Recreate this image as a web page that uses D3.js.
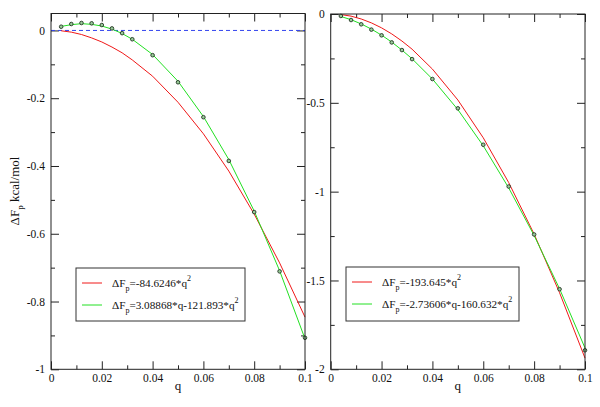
<!DOCTYPE html>
<html>
<head>
<meta charset="utf-8">
<script src="https://cdnjs.cloudflare.com/ajax/libs/d3/7.8.5/d3.min.js"></script>
<style>
  html, body { margin: 0; padding: 0; background: #fff; }
  svg text { font-family: "Liberation Serif", "Times New Roman", Tinos, "DejaVu Serif", "Noto Serif", serif; }
  .axis path { display: none; }
  .axis line { stroke: #222; }
  .axis text { fill: #111; font-size: 11.5px; }
</style>
</head>
<body>
<svg id="chart" width="600" height="407"></svg>
<script>
"use strict";

var SERIF = "'Liberation Serif', 'Times New Roman', Tinos, 'DejaVu Serif', 'Noto Serif', serif";

// q values shared by both panels
var qVals = [0.004, 0.008, 0.012, 0.016, 0.020, 0.024, 0.028, 0.032, 0.04, 0.05, 0.06, 0.07, 0.08, 0.09, 0.1];

// left panel
var leftPoints = [0.011, 0.019, 0.022, 0.021, 0.016, 0.006, -0.008, -0.026, -0.073, -0.153, -0.256, -0.385, -0.536, -0.711, -0.907];
var leftRed    = [-0.001, -0.005, -0.012, -0.022, -0.034, -0.049, -0.066, -0.087, -0.135, -0.212, -0.305, -0.415, -0.542, -0.686, -0.846];
var leftGreen  = [0.012, 0.017, 0.020, 0.018, 0.013, 0.004, -0.009, -0.026, -0.071, -0.150, -0.254, -0.381, -0.533, -0.709, -0.910];

// right panel
var rightPoints = [-0.011, -0.034, -0.058, -0.088, -0.120, -0.160, -0.203, -0.254, -0.366, -0.531, -0.736, -0.971, -1.241, -1.549, -1.893];
var rightRed    = [-0.003, -0.012, -0.028, -0.050, -0.078, -0.112, -0.152, -0.198, -0.310, -0.484, -0.697, -0.949, -1.239, -1.569, -1.937];
var rightGreen  = [-0.014, -0.032, -0.056, -0.085, -0.119, -0.158, -0.203, -0.252, -0.366, -0.538, -0.742, -0.979, -1.247, -1.547, -1.880];

// tick labels
var xMajor = [0, 0.02, 0.04, 0.06, 0.08, 0.1];
var xMinor = [0.01, 0.03, 0.05, 0.07, 0.09];
var leftYMajor = [-1, -0.8, -0.6, -0.4, -0.2, 0];
var leftYMinor = [-0.9, -0.7, -0.5, -0.3, -0.1];
var rightYMajor = [-2, -1.5, -1, -0.5, 0];
var rightYMinor = [-1.75, -1.25, -0.75, -0.25];

var leftLegend = [
  {color: "#f01818", pre: "=-84.6246*q", sup: "2"},
  {color: "#22e022", pre: "=3.08868*q-121.893*q", sup: "2"}
];
var rightLegend = [
  {color: "#f01818", pre: "=-193.645*q", sup: "2"},
  {color: "#22e022", pre: "=-2.73606*q-160.632*q", sup: "2"}
];

var svg = d3.select("#chart");
var fmt = function(d) { return String(+d.toFixed(3)); };

var panels = [
  {x0: 51, x1: 305, y0: 13.5, y1: 369.3, yDomain: [-1, 0.05], yMajor: leftYMajor, yMinor: leftYMinor,
   points: leftPoints, red: leftRed, green: leftGreen, legend: leftLegend, zeroLine: true,
   leg: {x: 76, y: 268, w: 169, h: 53}},
  {x0: 330.7, x1: 585, y0: 14, y1: 369.3, yDomain: [-2, 0], yMajor: rightYMajor, yMinor: rightYMinor,
   points: rightPoints, red: rightRed, green: rightGreen, legend: rightLegend, zeroLine: false,
   leg: {x: 346, y: 267, w: 173, h: 54}}
];

panels.forEach(function(p) {
  var w = p.x1 - p.x0, h = p.y1 - p.y0;
  var x = d3.scaleLinear().domain([0, 0.1]).range([0, w]);
  var y = d3.scaleLinear().domain(p.yDomain).range([h, 0]);
  var g = svg.append("g").attr("transform", "translate(" + p.x0 + "," + p.y0 + ")");

  // axes: major + minor ticks, all pointing inward, mirrored on every side
  g.append("g").attr("class", "axis").attr("transform", "translate(0," + h + ")")
    .call(d3.axisBottom(x).tickValues(xMajor).tickSize(-8).tickPadding(5).tickFormat(fmt));
  g.append("g").attr("class", "axis").attr("transform", "translate(0," + h + ")")
    .call(d3.axisBottom(x).tickValues(xMinor).tickSize(-4).tickFormat(""));
  g.append("g").attr("class", "axis")
    .call(d3.axisTop(x).tickValues(xMajor).tickSize(-8).tickFormat(""));
  g.append("g").attr("class", "axis")
    .call(d3.axisTop(x).tickValues(xMinor).tickSize(-4).tickFormat(""));
  g.append("g").attr("class", "axis")
    .call(d3.axisLeft(y).tickValues(p.yMajor).tickSize(-8).tickPadding(6).tickFormat(fmt));
  g.append("g").attr("class", "axis")
    .call(d3.axisLeft(y).tickValues(p.yMinor).tickSize(-4).tickFormat(""));
  g.append("g").attr("class", "axis").attr("transform", "translate(" + w + ",0)")
    .call(d3.axisRight(y).tickValues(p.yMajor).tickSize(-8).tickFormat(""));
  g.append("g").attr("class", "axis").attr("transform", "translate(" + w + ",0)")
    .call(d3.axisRight(y).tickValues(p.yMinor).tickSize(-4).tickFormat(""));
  g.selectAll(".axis").attr("font-family", SERIF);

  if (p.zeroLine) {
    g.append("line")
      .attr("x1", x(0)).attr("x2", x(0.1)).attr("y1", y(0)).attr("y2", y(0))
      .attr("stroke", "#3344ee").attr("stroke-width", 1).attr("stroke-dasharray", "4,3");
  }

  var line = d3.line().x(function(d, i) { return x(qVals[i]); }).y(function(d) { return y(d); });
  g.append("path").attr("d", line(p.red)).attr("fill", "none").attr("stroke", "#f01818").attr("stroke-width", 1);
  g.append("path").attr("d", line(p.green)).attr("fill", "none").attr("stroke", "#22e022").attr("stroke-width", 1);

  g.selectAll(".dot").data(p.points).enter().append("circle")
    .attr("class", "dot")
    .attr("cx", function(d, i) { return x(qVals[i]); })
    .attr("cy", function(d) { return y(d); })
    .attr("r", 1.8)
    .attr("fill", "#9c9")
    .attr("stroke", "#223322")
    .attr("stroke-width", 0.9);

  // frame
  g.append("rect").attr("width", w).attr("height", h)
    .attr("fill", "none").attr("stroke", "#222").attr("stroke-width", 1);

  // x label
  g.append("text").attr("x", w / 2).attr("y", h + 21)
    .attr("text-anchor", "middle").attr("font-size", 13).attr("fill", "#111").text("q");

  // legend
  var lg = svg.append("g").attr("transform", "translate(" + p.leg.x + "," + p.leg.y + ")");
  lg.append("rect").attr("width", p.leg.w).attr("height", p.leg.h)
    .attr("fill", "#fff").attr("stroke", "#333").attr("stroke-width", 1);
  p.legend.forEach(function(item, i) {
    var ry = 15 + i * 22;
    lg.append("line").attr("x1", 6).attr("x2", 26).attr("y1", ry).attr("y2", ry)
      .attr("stroke", item.color).attr("stroke-width", 1);
    var t = lg.append("text").attr("x", 36).attr("y", ry + 4).attr("font-size", 11.2).attr("fill", "#111");
    t.append("tspan").text("\u0394F");
    t.append("tspan").attr("dy", 4).attr("font-size", 8).text("p");
    t.append("tspan").attr("dy", -4).text(item.pre);
    t.append("tspan").attr("dy", -6).attr("font-size", 8).text(item.sup);
  });
});

// y axis title
var yt = svg.append("text")
  .attr("transform", "translate(19,191) rotate(-90)")
  .attr("text-anchor", "middle").attr("font-size", 13).attr("fill", "#111");
yt.append("tspan").text("\u0394F");
yt.append("tspan").attr("dy", 4).attr("font-size", 9).text("p");
yt.append("tspan").attr("dy", -4).text(" kcal/mol");
</script>
</body>
</html>
